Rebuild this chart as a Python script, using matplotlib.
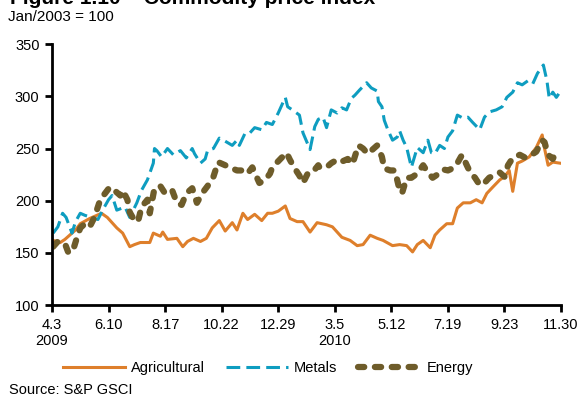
import matplotlib
matplotlib.use("Agg")
import matplotlib.pyplot as plt

# trading-day offsets from 3 Apr 2009, index values (Jan/2003 = 100)
agri_days = [1, 7, 11, 20, 24, 32, 42, 47, 55, 60, 66, 70, 75, 83, 86, 92, 94, 98,
             106, 111, 115, 120, 126, 131, 136, 142, 147, 153, 157, 162, 166, 172,
             178, 183, 187, 192, 198, 202, 208, 213, 219, 225, 233, 238, 246, 253,
             259, 264, 270, 276, 281, 289, 295, 301, 306, 310, 315, 321, 325, 329,
             335, 340, 344, 349, 355, 360, 365, 369, 374, 380, 384, 388, 391, 395,
             399, 405, 411, 416, 418, 421, 425, 431]
agri_vals = [162, 160, 163, 172, 178, 183, 188, 184, 174, 169, 156, 158, 160, 160,
             169, 166, 170, 163, 164, 156, 161, 164, 161, 164, 174, 181, 171, 179,
             172, 188, 182, 187, 181, 188, 188, 190, 195, 183, 180, 180, 170, 179,
             177, 175, 165, 162, 157, 158, 167, 164, 162, 157, 158, 157, 151, 158,
             162, 155, 167, 172, 178, 178, 193, 198, 198, 201, 198, 207, 213, 220,
             223, 229, 209, 236, 238, 242, 251, 263, 250, 234, 237, 236]

metal_days = [1, 5, 9, 12, 17, 20, 24, 28, 34, 39, 43, 48, 51, 55, 62, 66, 72, 76,
              81, 86, 87, 89, 93, 98, 103, 109, 114, 119, 121, 126, 130, 132, 137,
              142, 147, 153, 157, 159, 164, 168, 172, 178, 182, 187, 192, 198, 200,
              204, 210, 213, 219, 223, 226, 230, 233, 237, 242, 246, 250, 254, 257,
              261, 267, 271, 276, 277, 280, 282, 285, 289, 293, 295, 298, 301, 305,
              310, 315, 319, 322, 325, 329, 333, 336, 340, 344, 349, 353, 357, 363,
              367, 371, 377, 382, 386, 391, 395, 399, 404, 408, 412, 417, 420, 422,
              425, 428, 431]
metal_vals = [169, 175, 188, 184, 169, 180, 188, 186, 184, 182, 191, 201, 205, 191,
              194, 184, 198, 210, 220, 236, 250, 248, 242, 250, 244, 248, 241, 250,
              245, 236, 240, 248, 250, 260, 257, 253, 258, 253, 265, 265, 270, 268,
              275, 273, 284, 299, 290, 287, 282, 265, 249, 271, 278, 280, 270, 287,
              284, 289, 287, 298, 301, 306, 313, 308, 305, 295, 290, 277, 268, 258,
              261, 267, 258, 251, 232, 251, 246, 258, 246, 245, 253, 250, 261, 267,
              282, 279, 280, 275, 268, 280, 285, 287, 290, 299, 304, 313, 311, 315,
              312, 322, 330, 315, 298, 304, 299, 304]

energy_days = [1, 5, 11, 14, 18, 21, 24, 28, 32, 36, 41, 45, 49, 53, 58, 60, 64,
               66, 70, 73, 76, 81, 83, 87, 92, 96, 102, 106, 110, 114, 119, 123,
               128, 132, 137, 141, 145, 151, 157, 162, 166, 170, 176, 181, 185, 187,
               193, 199, 202, 206, 210, 213, 217, 221, 226, 227, 233, 237, 243, 247,
               251, 255, 260, 264, 268, 271, 276, 280, 282, 287, 291, 294, 297, 301,
               305, 310, 315, 319, 323, 327, 332, 336, 340, 344, 348, 352, 355, 359,
               363, 367, 371, 376, 380, 384, 387, 391, 397, 402, 407, 411, 416, 418,
               421, 425, 429]
energy_vals = [156, 161, 159, 150, 153, 164, 174, 178, 175, 184, 201, 207, 213, 210,
               205, 210, 201, 189, 181, 180, 194, 201, 188, 212, 214, 207, 210, 198,
               196, 207, 212, 198, 208, 214, 223, 237, 235, 232, 229, 229, 226, 232,
               217, 220, 226, 232, 239, 246, 239, 231, 224, 217, 226, 227, 234, 232,
               232, 236, 240, 238, 240, 235, 253, 250, 245, 248, 253, 242, 231, 229,
               229, 215, 207, 222, 222, 226, 234, 227, 222, 225, 230, 229, 231, 236,
               244, 234, 227, 222, 215, 217, 222, 225, 227, 223, 234, 241, 244, 241,
               244, 247, 258, 256, 244, 240, 250]

tick_days = [0, 48, 96, 144, 192, 240, 288, 336, 384, 432]
tick_labels = ["4.3\n2009", "6.10", "8.17", "10.22", "12.29", "3.5\n2010",
               "5.12", "7.19", "9.23", "11.30"]

plt.rcParams["font.family"] = ["Liberation Sans", "DejaVu Sans"]
plt.rcParams["font.size"] = 10.5

fig = plt.figure(figsize=(5.82, 4.01), dpi=100)
ax = fig.add_axes([0.0893, 0.239, 0.8747, 0.651])

ax.plot(agri_days, agri_vals, color="#DE7F2B", lw=2.2, label="Agricultural",
        solid_joinstyle="round")
ax.plot(metal_days, metal_vals, color="#0E9DC0", lw=2.2, linestyle=(0, (4.5, 2)),
        label="Metals")
ax.plot(energy_days, energy_vals, color="#6E5C2A", lw=4.5, linestyle=(0, (1.0, 1.7)),
        dash_capstyle="round", label="Energy")

ax.set_xlim(0, 432)
ax.set_ylim(100, 350)
ax.set_yticks([100, 150, 200, 250, 300, 350])
ax.set_xticks(tick_days)
ax.set_xticklabels(tick_labels, linespacing=1.25)

for side in ["top", "right"]:
    ax.spines[side].set_visible(False)
for side in ["left", "bottom"]:
    ax.spines[side].set_linewidth(2)
ax.tick_params(width=2, length=5, pad=4, labelsize=10.5)

# heading sits mostly above the top edge of the page
fig.text(0.017, 0.990, "Figure 1.10 – Commodity price index", fontsize=15,
         fontweight="bold", va="baseline")
fig.text(0.014, 0.9476, "Jan/2003 = 100", fontsize=11, va="baseline")
fig.text(0.015, 0.017, "Source: S&P GSCI", fontsize=10.5, va="baseline")

fig.legend(loc="center", bbox_to_anchor=(0.46, 0.082), ncol=3, frameon=False,
           handlelength=4.3, handletextpad=0.4, columnspacing=1.4, fontsize=10.5)

fig.savefig("out.png", dpi=100)
